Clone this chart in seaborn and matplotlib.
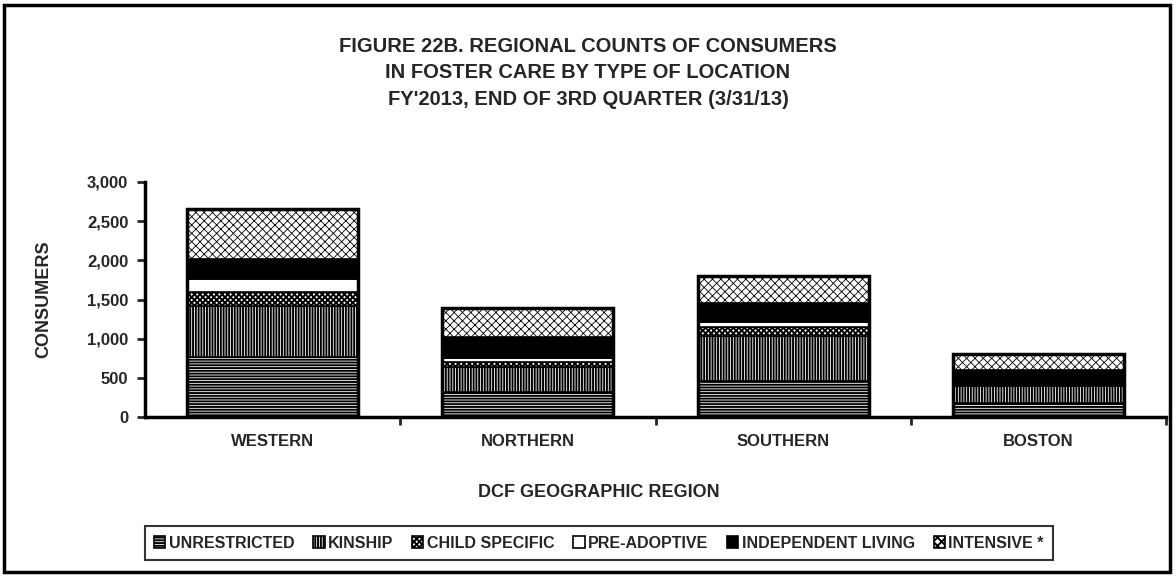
import matplotlib
matplotlib.use("Agg")
import matplotlib.pyplot as plt
from matplotlib.patches import Patch, Rectangle
from matplotlib.ticker import FuncFormatter, FixedLocator
import seaborn as sns
import pandas as pd
import numpy as np

regions = ["WESTERN", "NORTHERN", "SOUTHERN", "BOSTON"]
series_names = ["UNRESTRICTED", "KINSHIP", "CHILD SPECIFIC", "PRE-ADOPTIVE",
                "INDEPENDENT LIVING", "INTENSIVE *"]
unrestricted = [765, 320, 460, 180]
kinship = [650, 320, 570, 215]
child_specific = [180, 65, 115, 15]
pre_adoptive = [170, 45, 65, 10]
independent_living = [255, 265, 240, 180]
intensive = [630, 375, 350, 200]

title = ("FIGURE 22B. REGIONAL COUNTS OF CONSUMERS\n"
         "IN FOSTER CARE BY TYPE OF LOCATION\n"
         "FY'2013, END OF 3RD QUARTER (3/31/13)")
y_ticks = [0, 500, 1000, 1500, 2000, 2500, 3000]

sns.set_style("white")
FONT = ["Liberation Sans Narrow", "Liberation Sans", "DejaVu Sans"]
plt.rcParams["font.family"] = FONT
plt.rcParams["font.weight"] = "bold"
plt.rcParams["hatch.linewidth"] = 1.4

series = [unrestricted, kinship, child_specific, pre_adoptive, independent_living, intensive]
styles = [
    dict(facecolor="white", hatch="------", hlw=1.4),
    dict(facecolor="white", hatch="||||||", hlw=1.4),
    dict(facecolor="white", hatch="xxxxxx", hlw=1.4),
    dict(facecolor="white", hatch=None, hlw=1.0),
    dict(facecolor="black", hatch=None, hlw=1.0),
    dict(facecolor="white", hatch="xxxx", hlw=0.6),
]

fig = plt.figure(figsize=(11.76, 5.77), dpi=100)
ax = fig.add_axes([145 / 1176, (577 - 417) / 577, (1166 - 145) / 1176, (417 - 182) / 577])

bottom = np.zeros(len(regions))
for name, vals, st in zip(series_names, series, styles):
    df = pd.DataFrame({"region": regions, "value": vals})
    n_before = len(ax.patches)
    sns.barplot(data=df, x="region", y="value", ax=ax, bottom=bottom,
                width=0.67, color=st["facecolor"], edgecolor="black",
                linewidth=1.2, errorbar=None, order=regions, saturation=1)
    for p in ax.patches[n_before:]:
        p.set_facecolor(st["facecolor"])
        p.set_edgecolor("black")
        if st["hatch"]:
            p.set_hatch(st["hatch"])
            try:
                p.set_hatch_linewidth(st["hlw"])
            except Exception:
                pass
    bottom = bottom + np.array(vals)

# outline each full stacked bar
for i, tot in enumerate(bottom):
    ax.add_patch(Rectangle((i - 0.335, 0), 0.67, tot, fill=False,
                           edgecolor="black", linewidth=2.5, zorder=5))

ax.set_xlim(-0.5, 3.5)
ax.set_ylim(0, 3000)
ax.set_yticks(y_ticks)
ax.yaxis.set_major_formatter(FuncFormatter(lambda v, p: f"{int(v):,}"))
for s in ["top", "right"]:
    ax.spines[s].set_visible(False)
for s in ["left", "bottom"]:
    ax.spines[s].set_linewidth(2.5)
    ax.spines[s].set_color("black")
ax.tick_params(axis="y", which="major", direction="out", length=6, width=2,
               labelsize=12, pad=6, left=True)
ax.tick_params(axis="x", which="major", length=0, labelsize=12, pad=12)
ax.xaxis.set_minor_locator(FixedLocator([0.5, 1.5, 2.5, 3.5]))
ax.tick_params(axis="x", which="minor", direction="out", length=6, width=2, bottom=True)
for lab in ax.get_xticklabels() + ax.get_yticklabels():
    lab.set_fontweight("bold")
ax.set_xlabel("DCF GEOGRAPHIC REGION", fontsize=13, fontweight="bold")
ax.xaxis.set_label_coords((599 - 145) / 1021, -0.32)
ax.xaxis.label.set_va("center")
ax.set_ylabel("CONSUMERS", fontsize=13, fontweight="bold")
ax.yaxis.set_label_coords(-(145 - 44) / 1021, 0.5)
ax.yaxis.label.set_va("center")

fig.text(0.5, 1 - 73 / 577, title, ha="center", va="center", fontsize=14.5,
         fontweight="bold", linespacing=1.5)

handles = [Patch(facecolor=st["facecolor"], edgecolor="black", hatch=st["hatch"],
                 linewidth=1.2) for st in styles]
leg = fig.legend(handles, series_names, loc="center", bbox_to_anchor=(599 / 1176, 1 - 543 / 577),
                 ncol=6, frameon=True, fancybox=False, edgecolor="black",
                 prop=dict(size=11.5, weight="bold"), handlelength=0.7, handleheight=0.7,
                 handletextpad=0.2, columnspacing=1.2, borderpad=0.6)
leg.get_frame().set_linewidth(1.5)

fig.patches.append(Rectangle((4 / 1176, 5 / 577), 1166 / 1176, 567 / 577, fill=False,
                             edgecolor="black", linewidth=2.5, transform=fig.transFigure))

fig.savefig("out.png", dpi=100)
